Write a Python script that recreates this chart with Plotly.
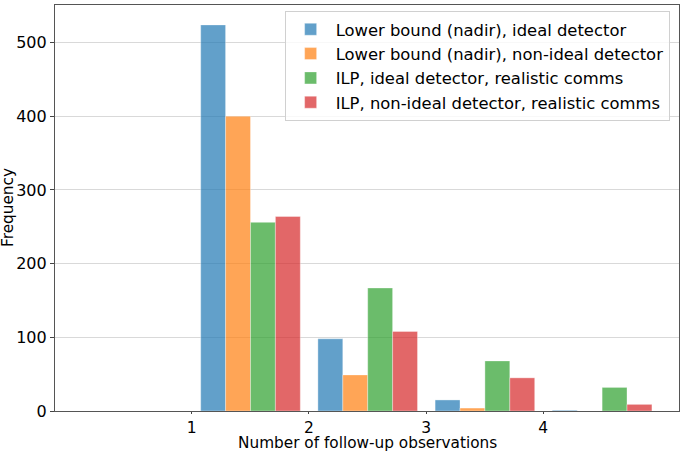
import plotly.graph_objects as go

# follow-up observation bins (left edges) and counts per configuration
bins = [1, 2, 3, 4]
lb_ideal = [524, 98, 15, 1]
lb_nonideal = [400, 49, 4, 0]
ilp_ideal = [256, 167, 68, 32]
ilp_nonideal = [264, 108, 45, 9]

names = [
    "Lower bound (nadir), ideal detector",
    "Lower bound (nadir), non-ideal detector",
    "ILP, ideal detector, realistic comms",
    "ILP, non-ideal detector, realistic comms",
]
# tab10 colours at alpha 0.7
colors = ["rgba(31,119,180,0.7)", "rgba(255,127,14,0.7)",
          "rgba(44,160,44,0.7)", "rgba(214,39,40,0.7)"]
series = [lb_ideal, lb_nonideal, ilp_ideal, ilp_nonideal]

bar_w = 0.2125
start = 0.077

fig = go.Figure()
for j, (name, vals, col) in enumerate(zip(names, series, colors)):
    fig.add_trace(go.Bar(
        x=bins, y=vals, name=name,
        width=bar_w, offset=start + j * bar_w,
        marker=dict(color=col, line=dict(color="rgba(255,255,255,0.6)", width=0.6)),
    ))

axis_font = dict(family="DejaVu Sans", size=16, color="black")
fig.update_layout(
    width=685, height=451,
    margin=dict(l=55, r=6, t=5, b=40),
    plot_bgcolor="white", paper_bgcolor="white",
    barmode="overlay",
    font=dict(family="DejaVu Sans", color="black"),
    legend=dict(
        x=0.368, y=0.985, xanchor="left", yanchor="top",
        font=dict(size=16.4), bgcolor="rgba(255,255,255,0.8)",
        bordercolor="#d0d0d0", borderwidth=1,
        tracegroupgap=0, itemwidth=40,
    ),
    showlegend=True,
)
# axis titles as annotations so they sit where matplotlib put them
fig.add_annotation(text="Number of follow-up observations", xref="paper", yref="paper",
                   x=0.5, y=0, yshift=-32, xanchor="center", yanchor="middle",
                   borderpad=0, showarrow=False, font=dict(size=15.3))
fig.add_annotation(text="Frequency", xref="paper", yref="paper", textangle=-90,
                   x=0, y=0.5, xshift=-47, xanchor="center", yanchor="middle",
                   borderpad=0, showarrow=False, font=dict(size=15.3))
fig.update_xaxes(
    range=[-0.166, 5.158], tickvals=bins, ticktext=[str(b) for b in bins],
    tickfont=dict(family="DejaVu Sans", size=15.5, color="black"),
    ticks="outside", ticklen=2, tickcolor="#444",
    showgrid=False, zeroline=False, automargin=False,
    showline=True, linecolor="#555", linewidth=1.2, mirror=True,
)
fig.update_yaxes(
    range=[0, 551], tickvals=[0, 100, 200, 300, 400, 500],
    tickfont=axis_font, ticks="outside", ticklen=4, tickcolor="#444",
    showgrid=True, gridcolor="#d9d9d9", gridwidth=1, zeroline=False, automargin=False,
    showline=True, linecolor="#555", linewidth=1.2, mirror=True,
)

fig.write_html("out.html", config={"displayModeBar": False},
               post_script="document.body.style.margin='0';")
